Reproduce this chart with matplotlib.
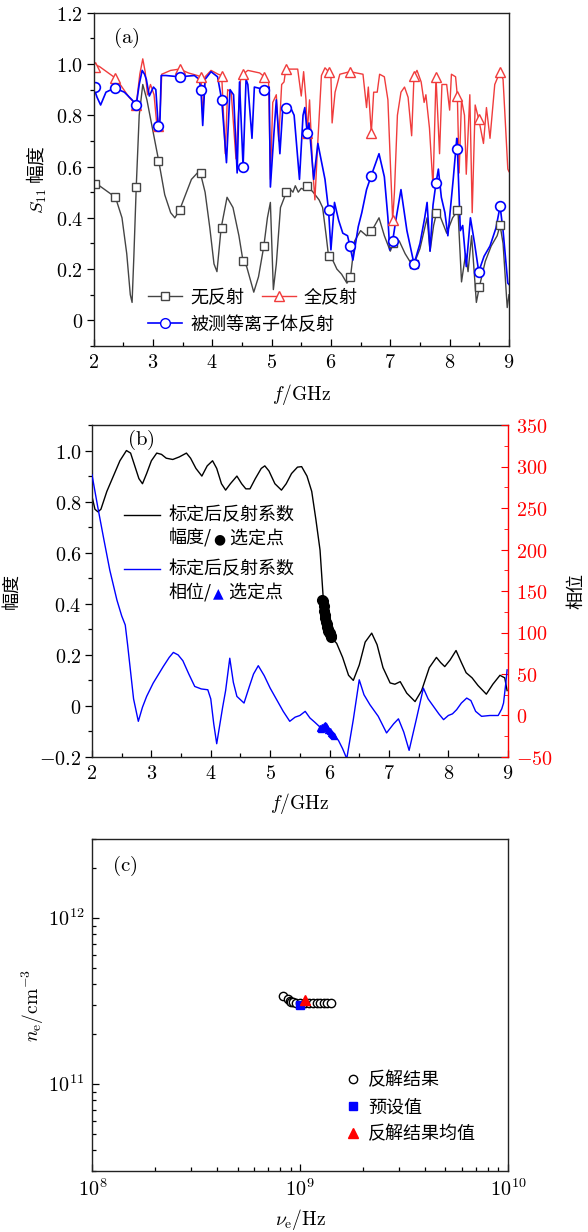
import matplotlib
matplotlib.use("Agg")
import matplotlib.pyplot as plt
from matplotlib.lines import Line2D
from matplotlib.ticker import MultipleLocator, FuncFormatter, LogLocator
from matplotlib.offsetbox import TextArea, HPacker, VPacker, DrawingArea, AnchoredOffsetbox
import numpy as np

plt.rcParams['font.family'] = ['Noto Sans CJK SC', 'DejaVu Serif']
plt.rcParams['mathtext.fontset'] = 'cm'
plt.rcParams['axes.unicode_minus'] = True

# ---------------- panel (a) data: S11 amplitude ----------------
no_ref_f = [2.00, 2.10, 2.25, 2.37, 2.48, 2.56, 2.62, 2.65, 2.68, 2.72, 2.77, 2.83, 2.90, 3.00,
            3.10, 3.20, 3.30, 3.37, 3.45, 3.55, 3.65, 3.75, 3.80, 3.88, 3.96, 4.03, 4.08, 4.15,
            4.25, 4.35, 4.45, 4.52, 4.58, 4.64, 4.70, 4.78, 4.87, 4.93, 4.98, 5.03, 5.08, 5.15,
            5.25, 5.32, 5.36, 5.40, 5.45, 5.50, 5.55, 5.60, 5.70, 5.80, 5.86, 5.92, 5.96, 6.02,
            6.10, 6.18, 6.27, 6.33, 6.40, 6.50, 6.60, 6.69, 6.81, 6.90, 7.00, 7.05, 7.15, 7.25,
            7.33, 7.40, 7.50, 7.62, 7.67, 7.73, 7.78, 7.85, 7.95, 8.05, 8.14, 8.20, 8.27, 8.31,
            8.37, 8.45, 8.50, 8.60, 8.70, 8.80, 8.85, 8.90, 8.97, 9.00]
no_ref_v = [0.53, 0.525, 0.50, 0.48, 0.40, 0.26, 0.10, 0.07, 0.25, 0.52, 0.80, 0.92, 0.86, 0.74,
            0.62, 0.49, 0.42, 0.40, 0.43, 0.49, 0.55, 0.575, 0.575, 0.50, 0.36, 0.22, 0.19, 0.36,
            0.48, 0.44, 0.33, 0.23, 0.21, 0.16, 0.11, 0.17, 0.29, 0.40, 0.46, 0.12, 0.22, 0.44,
            0.50, 0.51, 0.50, 0.525, 0.50, 0.515, 0.51, 0.525, 0.50, 0.47, 0.44, 0.33, 0.25, 0.24,
            0.20, 0.18, 0.145, 0.17, 0.31, 0.35, 0.33, 0.35, 0.40, 0.33, 0.27, 0.30, 0.31, 0.26,
            0.23, 0.22, 0.28, 0.40, 0.27, 0.37, 0.42, 0.40, 0.34, 0.40, 0.43, 0.15, 0.26, 0.19,
            0.33, 0.07, 0.13, 0.23, 0.29, 0.33, 0.37, 0.30, 0.05, 0.10]

full_ref_f = [2.00, 2.10, 2.25, 2.37, 2.45, 2.60, 2.72, 2.78, 2.83, 2.87, 2.91, 2.96, 3.02, 3.06,
              3.09, 3.12, 3.15, 3.30, 3.45, 3.60, 3.75, 3.81, 3.84, 3.88, 3.98, 4.10, 4.16, 4.22,
              4.26, 4.32, 4.40, 4.44, 4.48, 4.52, 4.60, 4.70, 4.80, 4.88, 4.95, 4.98, 5.02, 5.08,
              5.12, 5.17, 5.21, 5.24, 5.30, 5.44, 5.50, 5.54, 5.58, 5.60, 5.64, 5.69, 5.73, 5.78,
              5.84, 5.90, 5.96, 6.00, 6.02, 6.07, 6.15, 6.32, 6.54, 6.60, 6.63, 6.68, 6.72, 6.78,
              6.82, 6.90, 6.96, 7.00, 7.03, 7.04, 7.07, 7.12, 7.18, 7.24, 7.30, 7.36, 7.40, 7.45,
              7.52, 7.57, 7.60, 7.66, 7.72, 7.77, 7.80, 7.83, 7.87, 7.95, 8.00, 8.03, 8.10, 8.13,
              8.16, 8.20, 8.25, 8.28, 8.34, 8.38, 8.43, 8.49, 8.57, 8.62, 8.68, 8.76, 8.85, 8.90,
              8.98, 9.00]
full_ref_v = [1.00, 0.99, 0.965, 0.945, 0.92, 0.87, 0.84, 0.96, 1.02, 0.97, 0.88, 0.92, 0.88, 0.78,
              0.76, 0.80, 0.96, 0.975, 0.98, 0.965, 0.955, 0.95, 0.80, 0.95, 0.975, 0.96, 0.955, 0.65,
              0.90, 0.89, 0.63, 0.80, 0.95, 0.96, 0.975, 0.97, 0.965, 0.95, 0.93, 0.55, 0.85, 0.88,
              0.70, 0.92, 0.93, 0.98, 0.98, 0.98, 0.875, 0.97, 0.86, 0.73, 0.86, 0.60, 0.47, 0.70,
              0.955, 0.985, 0.97, 0.95, 0.77, 0.89, 0.96, 0.97, 0.96, 0.83, 0.91, 0.73, 0.89, 0.89,
              0.96, 0.95, 0.86, 0.62, 0.45, 0.39, 0.50, 0.80, 0.89, 0.91, 0.87, 0.72, 0.955, 0.975,
              0.93, 0.85, 0.88, 0.75, 0.52, 0.95, 0.80, 0.65, 0.92, 0.92, 0.82, 0.96, 0.95, 0.875,
              0.575, 0.86, 0.80, 0.57, 0.88, 0.42, 0.84, 0.785, 0.69, 0.83, 0.71, 0.92, 0.97, 0.94,
              0.59, 0.58]

plasma_f = [2.00, 2.06, 2.12, 2.21, 2.30, 2.37, 2.52, 2.65, 2.72, 2.77, 2.82, 2.86, 2.89, 2.94,
            3.01, 3.05, 3.09, 3.12, 3.14, 3.22, 3.45, 3.70, 3.78, 3.81, 3.84, 3.88, 3.98, 4.09,
            4.16, 4.24, 4.30, 4.36, 4.42, 4.46, 4.52, 4.57, 4.60, 4.67, 4.71, 4.88, 4.96, 4.98,
            5.04, 5.08, 5.14, 5.19, 5.24, 5.30, 5.38, 5.47, 5.53, 5.56, 5.60, 5.63, 5.71, 5.78,
            5.84, 5.90, 5.96, 6.00, 6.06, 6.13, 6.20, 6.28, 6.32, 6.37, 6.46, 6.52, 6.60, 6.68,
            6.81, 6.90, 6.96, 6.99, 7.04, 7.10, 7.18, 7.28, 7.40, 7.50, 7.58, 7.62, 7.67, 7.72,
            7.77, 7.81, 7.86, 7.92, 7.97, 8.06, 8.12, 8.13, 8.18, 8.22, 8.28, 8.35, 8.42, 8.49,
            8.58, 8.68, 8.78, 8.85, 8.90, 8.98, 9.00]
plasma_v = [0.91, 0.87, 0.84, 0.89, 0.90, 0.905, 0.89, 0.86, 0.84, 0.92, 0.975, 0.96, 0.94, 0.875,
            0.91, 0.90, 0.76, 0.78, 0.955, 0.955, 0.95, 0.955, 0.94, 0.90, 0.76, 0.94, 0.97, 0.95,
            0.86, 0.615, 0.90, 0.88, 0.575, 0.93, 0.60, 0.94, 0.92, 0.71, 0.91, 0.90, 0.91, 0.52,
            0.73, 0.86, 0.65, 0.83, 0.83, 0.84, 0.80, 0.55, 0.80, 0.83, 0.73, 0.77, 0.55, 0.69,
            0.62, 0.55, 0.43, 0.275, 0.46, 0.39, 0.34, 0.33, 0.29, 0.235, 0.365, 0.42, 0.51, 0.565,
            0.65, 0.56, 0.40, 0.275, 0.31, 0.40, 0.51, 0.35, 0.22, 0.30, 0.40, 0.46, 0.27, 0.45,
            0.535, 0.59, 0.48, 0.42, 0.33, 0.55, 0.71, 0.67, 0.35, 0.37, 0.21, 0.40, 0.30, 0.19,
            0.25, 0.29, 0.36, 0.445, 0.35, 0.145, 0.14]

# marker positions (shared frequencies) and values read at them
mark_f = [2.02, 2.37, 2.72, 3.09, 3.45, 3.81, 4.16, 4.52, 4.88, 5.24,
          5.60, 5.96, 6.32, 6.68, 7.04, 7.40, 7.77, 8.13, 8.49, 8.85]
no_ref_mark = [0.53, 0.48, 0.52, 0.62, 0.43, 0.575, 0.36, 0.23, 0.29, 0.50,
               0.525, 0.25, 0.17, 0.35, 0.30, 0.22, 0.42, 0.43, 0.13, 0.37]
full_ref_mark = [0.99, 0.945, 0.84, 0.76, 0.98, 0.95, 0.955, 0.96, 0.95, 0.98,
                 0.73, 0.97, 0.97, 0.73, 0.39, 0.955, 0.95, 0.875, 0.785, 0.97]
plasma_mark = [0.91, 0.905, 0.84, 0.76, 0.95, 0.90, 0.86, 0.60, 0.90, 0.83,
               0.73, 0.43, 0.29, 0.565, 0.31, 0.22, 0.535, 0.67, 0.19, 0.445]

# ---------------- panel (b) data: calibrated reflection ----------------
amp_f = [2.00, 2.05, 2.10, 2.15, 2.25, 2.36, 2.47, 2.58, 2.65, 2.72, 2.79, 2.85, 2.92, 3.00,
         3.09, 3.17, 3.25, 3.36, 3.47, 3.59, 3.66, 3.75, 3.85, 3.94, 4.03, 4.10, 4.18, 4.25,
         4.33, 4.44, 4.52, 4.59, 4.66, 4.75, 4.85, 4.91, 4.98, 5.08, 5.19, 5.27, 5.36, 5.46,
         5.53, 5.62, 5.70, 5.77, 5.84, 5.90, 5.95, 6.02, 6.12, 6.22, 6.32, 6.40, 6.50, 6.60,
         6.71, 6.80, 6.90, 7.02, 7.10, 7.19, 7.30, 7.44, 7.55, 7.68, 7.80, 7.87, 7.94, 8.03,
         8.13, 8.22, 8.30, 8.40, 8.50, 8.64, 8.75, 8.87, 8.95, 8.99]
amp_v = [0.82, 0.77, 0.76, 0.77, 0.84, 0.90, 0.96, 1.00, 0.99, 0.94, 0.89, 0.87, 0.91, 0.96,
         0.99, 0.985, 0.97, 0.965, 0.975, 0.99, 0.97, 0.93, 0.90, 0.94, 0.96, 0.93, 0.87, 0.845,
         0.87, 0.90, 0.87, 0.85, 0.85, 0.89, 0.93, 0.94, 0.92, 0.87, 0.845, 0.87, 0.91, 0.935,
         0.937, 0.90, 0.84, 0.73, 0.61, 0.40, 0.32, 0.27, 0.245, 0.19, 0.12, 0.10, 0.16, 0.25,
         0.285, 0.24, 0.15, 0.09, 0.085, 0.095, 0.05, 0.017, 0.06, 0.15, 0.19, 0.17, 0.154, 0.18,
         0.217, 0.17, 0.13, 0.11, 0.08, 0.046, 0.085, 0.12, 0.11, 0.06]

phase_f = [2.00, 2.10, 2.20, 2.30, 2.42, 2.50, 2.56, 2.60, 2.64, 2.70, 2.78, 2.85, 2.92, 3.03,
           3.20, 3.30, 3.37, 3.45, 3.53, 3.63, 3.73, 3.84, 3.95, 4.00, 4.05, 4.10, 4.15, 4.20,
           4.25, 4.32, 4.38, 4.44, 4.56, 4.65, 4.72, 4.80, 4.90, 5.00, 5.11, 5.22, 5.33, 5.42,
           5.50, 5.59, 5.67, 5.75, 5.84, 5.92, 6.00, 6.08, 6.15, 6.22, 6.29, 6.40, 6.50, 6.58,
           6.68, 6.82, 6.96, 7.08, 7.16, 7.25, 7.34, 7.46, 7.58, 7.66, 7.75, 7.84, 7.92, 8.00,
           8.07, 8.14, 8.22, 8.31, 8.38, 8.46, 8.56, 8.70, 8.84, 8.90, 8.93, 8.97, 8.99]
phase_p = [290, 250, 212, 175, 139, 120, 109, 85, 59, 20, -7, 10, 23, 39,
           59, 70, 76, 73, 66, 50, 35, 32, 31, 20, -10, -34, -12, 10,
           30, 69, 40, 23, 15, 35, 50, 60, 48, 33, 19, 5, -7, -2,
           0, 5, -3, -8, -14, -12, -19, -24, -30, -40, -52, -5, 43, 25,
           13, -1, -21, -10, -4, -20, -42, -5, 33, 20, 11, 2, -5, 0,
           2, 7, 15, 21, 18, 5, -1, 0, 0, 8, 15, 40, 55]

sel_amp_f = [5.88, 5.89, 5.90, 5.91, 5.92, 5.93, 5.94, 5.95, 5.96, 5.97, 5.98, 5.99, 6.00, 6.01, 6.02, 6.03]
sel_amp_v = [0.415, 0.41, 0.39, 0.37, 0.355, 0.345, 0.33, 0.32, 0.31, 0.30, 0.295, 0.29, 0.285, 0.28, 0.275, 0.27]
sel_ph_f = [5.84, 5.86, 5.88, 5.90, 5.92, 5.94, 5.96, 5.98, 6.00, 6.02, 6.04, 6.06, 6.08]
sel_ph_p = [-15, -16, -14, -13, -12, -13, -15, -17, -19, -21, -22, -24, -25]

# ---------------- panel (c) data: inversion results ----------------
inv_nu = [8.3e8, 8.7e8, 8.9e8, 9.0e8, 9.2e8, 9.5e8, 1.0e9, 1.05e9, 1.1e9, 1.15e9,
          1.2e9, 1.25e9, 1.3e9, 1.35e9, 1.4e9]
inv_ne = [3.4e11, 3.28e11, 3.18e11, 3.13e11, 3.12e11, 3.1e11, 3.1e11, 3.1e11, 3.1e11, 3.1e11,
          3.1e11, 3.09e11, 3.09e11, 3.08e11, 3.08e11]
preset_nu = [1.0e9]
preset_ne = [3.0e11]
mean_nu = [1.05e9]
mean_ne = [3.2e11]

W, H = 588, 1232
fig = plt.figure(figsize=(W / 100, H / 100), dpi=100)


def box(l, t, r, b):
    return [l / W, 1 - b / H, (r - l) / W, (b - t) / H]


axA = fig.add_axes(box(93.5, 12.7, 509, 346))
axB = fig.add_axes(box(92, 425, 507.7, 757))
axC = fig.add_axes(box(92.3, 839, 508, 1171))

spine_c = '#222222'
tick_fs = 14.5
cjk_fs = 13
lab_fs = 14

for ax in (axA, axB, axC):
    for s in ax.spines.values():
        s.set_color(spine_c)
        s.set_linewidth(1.0)


def num_fmt(v, _):
    if abs(v) < 1e-9:
        return r'$0$'
    return r'$%g$' % v


def dec_fmt(v, _):
    if abs(v) < 1e-9:
        return r'$0$'
    return r'$%.1f$' % v


# ---- (a)
c_black = '#444444'
c_red = '#f03c3c'
c_blue = '#0000ff'
axA.plot(no_ref_f, no_ref_v, color=c_black, lw=1.0)
axA.plot(full_ref_f, full_ref_v, color=c_red, lw=1.0)
axA.plot(plasma_f, plasma_v, color=c_blue, lw=1.2)
axA.plot(mark_f, no_ref_mark, ls='none', marker='s', ms=6, mfc='white', mec=c_black, mew=1.0)
axA.plot(mark_f, full_ref_mark, ls='none', marker='^', ms=7.5, mfc='white', mec=c_red, mew=1.0)
axA.plot(mark_f, plasma_mark, ls='none', marker='o', ms=7, mfc='white', mec=c_blue, mew=1.2)
axA.set_xlim(2, 9)
axA.set_ylim(-0.1, 1.2)
axA.xaxis.set_major_locator(MultipleLocator(1))
axA.xaxis.set_minor_locator(MultipleLocator(0.5))
axA.yaxis.set_major_locator(MultipleLocator(0.2))
axA.yaxis.set_minor_locator(MultipleLocator(0.1))
axA.xaxis.set_major_formatter(FuncFormatter(num_fmt))
axA.yaxis.set_major_formatter(FuncFormatter(dec_fmt))
axA.set_xlabel(r'$f/\mathrm{GHz}$', fontsize=lab_fs)
axA.xaxis.set_label_coords(0.5, -0.108)
axA.set_ylabel(r'$S_{11}$ 幅度', fontsize=13.5)
axA.yaxis.set_label_coords(-0.108, 0.5)
axA.text(0.078, 0.925, r'$\mathrm{(a)}$', transform=axA.transAxes, fontsize=15, ha='center', va='center')

legA_kw = dict(loc='upper left', frameon=False, fontsize=cjk_fs, borderpad=0, borderaxespad=0,
               handlelength=1.9, handletextpad=0.45, columnspacing=0.95)
hA1 = [Line2D([], [], color=c_black, lw=1.0, marker='s', ms=6, mfc='white', mec=c_black),
       Line2D([], [], color=c_red, lw=1.0, marker='^', ms=7.5, mfc='white', mec=c_red)]
hA2 = [Line2D([], [], color=c_blue, lw=1.2, marker='o', ms=7, mfc='white', mec=c_blue)]
legA1 = axA.legend(hA1, ['无反射', '全反射'], ncol=2, bbox_to_anchor=(0.131, 0.172), **legA_kw)
axA.add_artist(legA1)
axA.legend(hA2, ['被测等离子体反射'], bbox_to_anchor=(0.131, 0.091), **legA_kw)

# ---- (b)
axB.plot(amp_f, amp_v, color='black', lw=1.0)
axB.plot(sel_amp_f, sel_amp_v, ls='none', marker='o', ms=7, color='black')
axB.set_xlim(2, 9)
axB.set_ylim(-0.2, 1.1)
axB.xaxis.set_major_locator(MultipleLocator(1))
axB.xaxis.set_minor_locator(MultipleLocator(0.5))
axB.yaxis.set_major_locator(MultipleLocator(0.2))
axB.yaxis.set_minor_locator(MultipleLocator(0.1))
axB.xaxis.set_major_formatter(FuncFormatter(num_fmt))
axB.yaxis.set_major_formatter(FuncFormatter(dec_fmt))
axB.set_xlabel(r'$f/\mathrm{GHz}$', fontsize=lab_fs)
axB.xaxis.set_label_coords(0.5, -0.103)
axB.set_ylabel('幅度', fontsize=cjk_fs)
axB.yaxis.set_label_coords(-0.172, 0.5)
axB.text(0.118, 0.955, r'$\mathrm{(b)}$', transform=axB.transAxes, fontsize=15, ha='center', va='center')
axB.spines['right'].set_visible(False)

axB2 = axB.twinx()
axB2.plot(phase_f, phase_p, color=c_blue, lw=1.0, clip_on=True)
axB2.plot(sel_ph_f, sel_ph_p, ls='none', marker='^', ms=5, color=c_blue)
axB2.set_ylim(-50, 350)
axB2.yaxis.set_major_locator(MultipleLocator(50))
axB2.yaxis.set_minor_locator(MultipleLocator(25))
axB2.yaxis.set_major_formatter(FuncFormatter(num_fmt))
for s in ('top', 'left', 'bottom'):
    axB2.spines[s].set_visible(False)
axB2.spines['right'].set_color('red')
axB2.spines['right'].set_linewidth(1.0)
axB2.tick_params(axis='y', which='both', colors='red', direction='in', labelsize=tick_fs, pad=6)
axB2.tick_params(axis='y', which='major', length=5)
axB2.tick_params(axis='y', which='minor', length=3)
axB2.set_ylabel('相位', fontsize=cjk_fs, color='black')
axB2.yaxis.set_label_coords(1.143, 0.5)


def legend_entry(color, first, second, sym, sym_color):
    da = DrawingArea(26, 13, 0, 0)
    da.add_artist(Line2D([0, 26], [6.5, 6.5], color=color, lw=1.0))
    tp = dict(fontsize=cjk_fs, color='black')
    line1 = TextArea(first, textprops=tp)
    line2 = HPacker(children=[TextArea(second, textprops=tp),
                              TextArea(sym, textprops=dict(fontsize=10, color=sym_color,
                                                           family=['DejaVu Sans'])),
                              TextArea(' 选定点', textprops=tp)],
                    pad=0, sep=1, align='baseline')
    col = VPacker(children=[line1, line2], pad=0, sep=3, align='left')
    return HPacker(children=[VPacker(children=[da], pad=0, sep=0), col], pad=0, sep=6, align='top')


legB = VPacker(children=[legend_entry('black', '标定后反射系数', '幅度/', '●', 'black'),
                         legend_entry(c_blue, '标定后反射系数', '相位/', '▲', c_blue)],
               pad=0, sep=9, align='left')
axB.add_artist(AnchoredOffsetbox(loc='upper left', child=legB, pad=0, borderpad=0, frameon=False,
                                 bbox_to_anchor=(0.077, 0.755), bbox_transform=axB.transAxes))

# ---- (c)
axC.plot(inv_nu, inv_ne, ls='none', marker='o', ms=6, mfc='white', mec='black', mew=1.0,
         label='反解结果')
axC.plot(preset_nu, preset_ne, ls='none', marker='s', ms=6, color=c_blue, label='预设值')
axC.plot(mean_nu, mean_ne, ls='none', marker='^', ms=7, color='red', label='反解结果均值')
axC.set_xscale('log')
axC.set_yscale('log')
axC.set_xlim(1e8, 1e10)
axC.set_ylim(3e10, 3e12)


def pow_fmt(v, _):
    e = int(round(np.log10(v)))
    return r'$10^{%d}$' % e


axC.xaxis.set_major_locator(LogLocator(base=10, numticks=10))
axC.yaxis.set_major_locator(LogLocator(base=10, numticks=10))
axC.xaxis.set_minor_locator(LogLocator(base=10, subs=np.arange(2, 10), numticks=20))
axC.yaxis.set_minor_locator(LogLocator(base=10, subs=np.arange(2, 10), numticks=20))
axC.xaxis.set_major_formatter(FuncFormatter(pow_fmt))
axC.yaxis.set_major_formatter(FuncFormatter(pow_fmt))
axC.xaxis.set_minor_formatter(FuncFormatter(lambda v, _: ''))
axC.yaxis.set_minor_formatter(FuncFormatter(lambda v, _: ''))
axC.set_xlabel(r'$\nu_\mathrm{e}/\mathrm{Hz}$', fontsize=lab_fs)
axC.xaxis.set_label_coords(0.5, -0.108)
axC.set_ylabel(r'$n_\mathrm{e}/\mathrm{cm}^{-3}$', fontsize=lab_fs)
axC.yaxis.set_label_coords(-0.112, 0.5)
axC.text(0.079, 0.92, r'$\mathrm{(c)}$', transform=axC.transAxes, fontsize=15, ha='center', va='center')
axC.legend(loc='upper left', bbox_to_anchor=(0.61, 0.301), frameon=False, fontsize=cjk_fs,
           borderpad=0, borderaxespad=0, handlelength=0.8, handletextpad=0.45, labelspacing=0.5)

# ticks
for ax in (axA, axB):
    ax.tick_params(axis='x', which='both', direction='in', top=False, labelsize=tick_fs)
    ax.tick_params(axis='y', which='both', direction='out', right=False, labelsize=tick_fs)
    ax.tick_params(which='major', length=5, width=0.9)
    ax.tick_params(which='minor', length=3, width=0.9)
    ax.tick_params(axis='x', which='major', pad=4.5)
    ax.tick_params(axis='y', which='major', pad=2.5)
axC.tick_params(which='both', direction='in', top=False, right=False, labelsize=tick_fs)
axC.tick_params(which='major', length=5, width=0.9, pad=6)
axC.tick_params(which='minor', length=3, width=0.9)

fig.savefig('out.png', dpi=100)
